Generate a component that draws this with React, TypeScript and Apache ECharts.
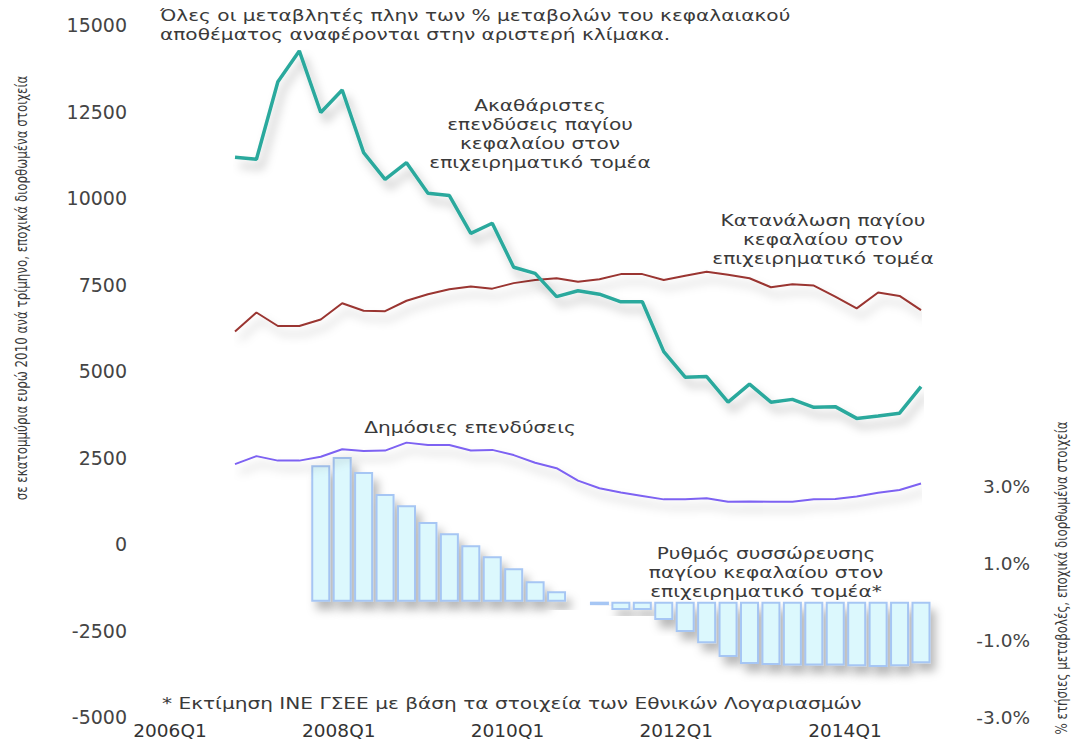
import { useEffect, useRef } from "react";
import * as echarts from "echarts";

const quarters = [
  "2006Q1", "2006Q2", "2006Q3", "2006Q4",
  "2007Q1", "2007Q2", "2007Q3", "2007Q4",
  "2008Q1", "2008Q2", "2008Q3", "2008Q4",
  "2009Q1", "2009Q2", "2009Q3", "2009Q4",
  "2010Q1", "2010Q2", "2010Q3", "2010Q4",
  "2011Q1", "2011Q2", "2011Q3", "2011Q4",
  "2012Q1", "2012Q2", "2012Q3", "2012Q4",
  "2013Q1", "2013Q2", "2013Q3", "2013Q4",
  "2014Q1",
];

const xTickLabels = ["2006Q1", "2008Q1", "2010Q1", "2012Q1", "2014Q1"];

// € million (2010 prices), left scale
const grossInvestment = [
  11180, 11120, 13360, 14250, 12470, 13120, 11310, 10540, 11020, 10140, 10070,
  8980, 9270, 8000, 7820, 7150, 7320, 7220, 7000, 7000, 5560, 4820, 4840, 4100,
  4620, 4100, 4180, 3950, 3970, 3630, 3700, 3780, 4550,
];
const capitalConsumption = [
  6140, 6690, 6300, 6300, 6490, 6960, 6740, 6730, 7030, 7220, 7360, 7440, 7380,
  7540, 7630, 7680, 7580, 7650, 7800, 7800, 7630, 7750, 7870, 7780, 7680, 7420,
  7510, 7470, 7150, 6810, 7270, 7170, 6760,
];
const publicInvestment = [
  2310, 2540, 2410, 2410, 2520, 2740, 2690, 2700, 2930, 2860, 2860, 2700, 2720,
  2570, 2350, 2190, 1830, 1610, 1490, 1390, 1290, 1290, 1320, 1220, 1230, 1220,
  1220, 1290, 1300, 1370, 1480, 1560, 1750,
];
// % annual change, right scale
const accumulationRate = [
  null, null, null, null, 3.55, 3.76, 3.37, 2.8, 2.51, 2.07, 1.78, 1.47, 1.18,
  0.87, 0.53, 0.27, 0.02, -0.09, -0.22, -0.22, -0.48, -0.79, -1.08, -1.44,
  -1.62, -1.65, -1.66, -1.66, -1.66, -1.68, -1.7, -1.68, -1.6,
];

const leftMin = -5000;
const leftMax = 15000;
const leftStep = 2500;
const rightMin = -3;
const rightMax = 15;
const rightStep = 2;
const rightShownMax = 3;

const WIDE = '"DejaVu Sans", Verdana, sans-serif';
const NARROW = '"Liberation Sans Narrow", "DejaVu Sans Condensed", "Roboto Condensed", sans-serif';
const TXT = "#3a3a3a";

export default function App() {
  const ref = useRef<HTMLDivElement>(null);
  useEffect(() => {
    document.body.style.margin = "0";
    const chart = echarts.init(ref.current!, null, { renderer: "svg" });
    const shadow = {
      shadowColor: "rgba(0,0,0,0.28)",
      shadowBlur: 10,
      shadowOffsetX: 5,
      shadowOffsetY: 8,
    };
    const note = (text: string, x: number, y: number, align = "center") => ({
      type: "text",
      x,
      y,
      scaleX: 1.22,
      style: {
        text,
        fill: TXT,
        font: `16.5px ${WIDE}`,
        align,
        verticalAlign: "middle",
        lineHeight: 19,
      },
    });
    const sideName = (text: string, x: number, y: number) => ({
      type: "text",
      x,
      y,
      rotation: Math.PI / 2,
      scaleX: 0.88,
      style: {
        text,
        fill: TXT,
        font: `15px ${NARROW}`,
        align: "center",
        verticalAlign: "middle",
      },
    });
    chart.setOption({
      animation: false,
      backgroundColor: "#ffffff",
      grid: [
        { left: 235, right: 158, top: 25, bottom: 25 },
        { left: 170, right: 234, top: 25, bottom: 25 },
      ],
      xAxis: [
        {
          type: "category",
          gridIndex: 0,
          data: quarters,
          boundaryGap: false,
          axisLine: { show: false },
          axisTick: { show: false },
          axisLabel: { show: false },
          splitLine: { show: false },
        },
        {
          type: "category",
          gridIndex: 1,
          data: xTickLabels,
          boundaryGap: false,
          axisLine: { show: false },
          axisTick: { show: false },
          splitLine: { show: false },
          axisLabel: {
            interval: 0,
            margin: 4,
            fontSize: 18.5,
            color: "#333",
            fontFamily: WIDE,
          },
        },
      ],
      yAxis: [
        {
          type: "value",
          gridIndex: 0,
          position: "left",
          min: leftMin,
          max: leftMax,
          interval: leftStep,
          axisLine: { show: false },
          axisTick: { show: false },
          splitLine: { show: false },
          axisLabel: {
            margin: 108,
            fontSize: 19,
            color: "#444",
            fontFamily: WIDE,
            formatter: (v: number) => String(v),
          },
        },
        {
          type: "value",
          gridIndex: 0,
          position: "right",
          min: rightMin,
          max: rightMax,
          interval: rightStep,
          axisLine: { show: false },
          axisTick: { show: false },
          splitLine: { show: false },
          axisLabel: {
            margin: 109,
            align: "right",
            fontSize: 18.5,
            color: "#444",
            fontFamily: WIDE,
            formatter: (v: number) => (v <= rightShownMax ? v.toFixed(1) + "%" : ""),
          },
        },
        { type: "value", gridIndex: 1, show: false },
      ],
      series: [
        {
          name: "Ρυθμός συσσώρευσης παγίου κεφαλαίου στον επιχειρηματικό τομέα*",
          type: "bar",
          xAxisIndex: 0,
          yAxisIndex: 1,
          data: accumulationRate,
          barWidth: 19,
          itemStyle: {
            color: "#dcf8fd",
            borderColor: "#a6c6f4",
            borderWidth: 2,
            ...shadow,
          },
        },
        {
          name: "Δημόσιες επενδύσεις",
          type: "line",
          xAxisIndex: 0,
          yAxisIndex: 0,
          data: publicInvestment,
          symbol: "none",
          lineStyle: { color: "#7d62f2", width: 2, ...shadow },
        },
        {
          name: "Κατανάλωση παγίου κεφαλαίου στον επιχειρηματικό τομέα",
          type: "line",
          xAxisIndex: 0,
          yAxisIndex: 0,
          data: capitalConsumption,
          symbol: "none",
          lineStyle: { color: "#9a3530", width: 2, ...shadow },
        },
        {
          name: "Ακαθάριστες επενδύσεις παγίου κεφαλαίου στον επιχειρηματικό τομέα",
          type: "line",
          xAxisIndex: 0,
          yAxisIndex: 0,
          data: grossInvestment,
          symbol: "none",
          lineStyle: { color: "#2ca99d", width: 3.5, ...shadow },
        },
      ],
      graphic: [
        note(
          "Όλες οι μεταβλητές πλην των % μεταβολών του κεφαλαιακού\nαποθέματος αναφέρονται στην αριστερή κλίμακα.",
          160,
          25,
          "left"
        ),
        note("Ακαθάριστες\nεπενδύσεις παγίου\nκεφαλαίου στον\nεπιχειρηματικό τομέα", 540, 134),
        note("Κατανάλωση παγίου\nκεφαλαίου στον\nεπιχειρηματικό τομέα", 823, 239),
        note("Δημόσιες επενδύσεις", 470, 427),
        note("Ρυθμός συσσώρευσης\nπαγίου κεφαλαίου στον\nεπιχειρηματικό τομέα*", 766, 572),
        note("* Εκτίμηση ΙΝΕ ΓΣΕΕ με βάση τα στοιχεία των Εθνικών Λογαριασμών", 162, 703, "left"),
        sideName("σε εκατομμύρια ευρώ 2010 ανά τρίμηνο, εποχικά διορθωμένα στοιχεία", 22, 288),
        sideName("% ετήσιες μεταβολές, εποχικά διορθωμένα στοιχεία", 1062, 578),
      ],
    });
    return () => chart.dispose();
  }, []);
  return <div ref={ref} style={{ width: 1079, height: 742, background: "#fff" }} />;
}
